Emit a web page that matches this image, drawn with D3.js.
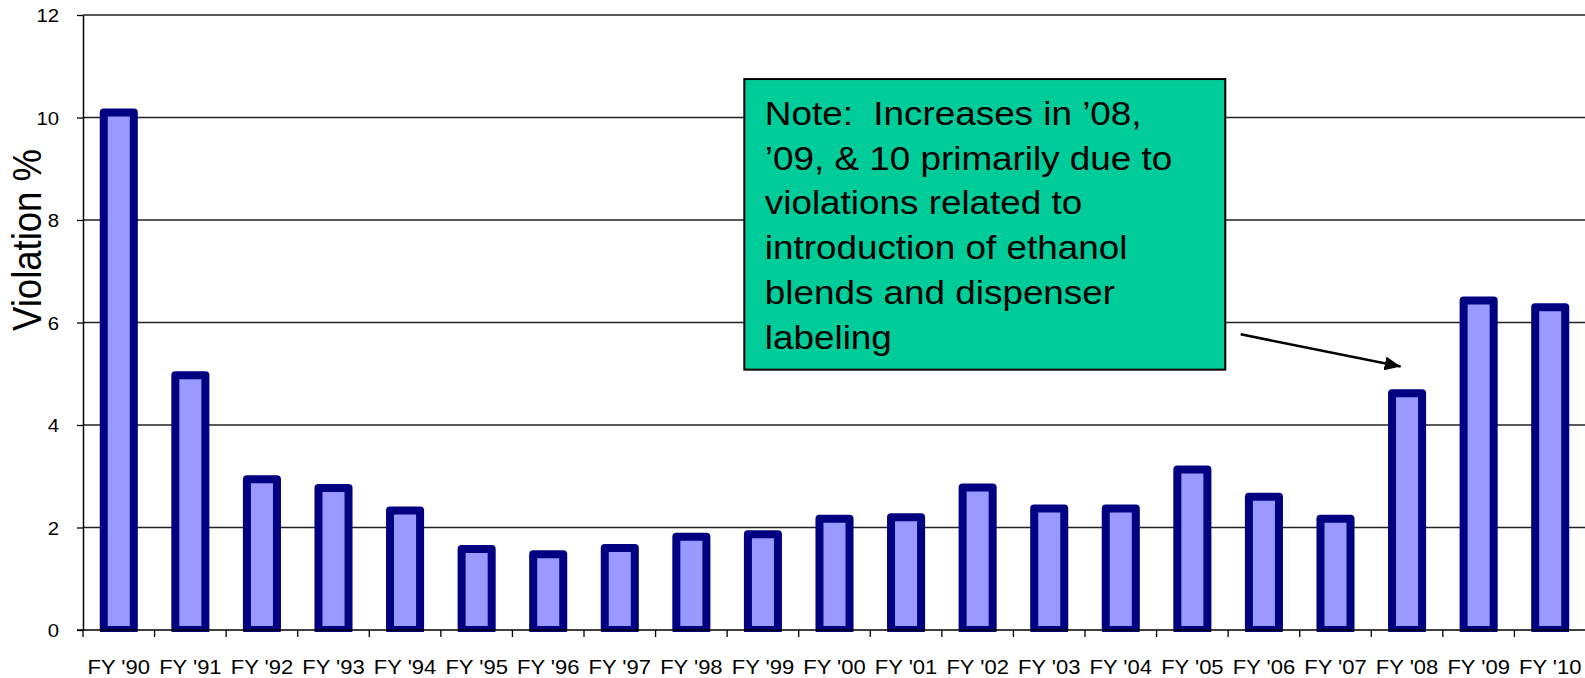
<!DOCTYPE html>
<html>
<head>
<meta charset="utf-8">
<script src="https://cdn.jsdelivr.net/npm/d3@7"></script>
<style>
  html, body { margin: 0; padding: 0; background: #fff; }
  svg { display: block; }
  text { font-family: Arial, "Liberation Sans", sans-serif; fill: #000; }
</style>
</head>
<body>
<svg id="chart" width="1585" height="678"></svg>
<script>
// ---- data ----
const categories = ["FY '90","FY '91","FY '92","FY '93","FY '94","FY '95","FY '96","FY '97","FY '98","FY '99","FY '00","FY '01","FY '02","FY '03","FY '04","FY '05","FY '06","FY '07","FY '08","FY '09","FY '10"];
const violationPct = [10.10, 4.97, 2.94, 2.77, 2.33, 1.58, 1.48, 1.60, 1.82, 1.87, 2.17, 2.20, 2.78, 2.37, 2.37, 3.13, 2.60, 2.17, 4.62, 6.43, 6.30];
const yTicks = [0, 2, 4, 6, 8, 10, 12];
const yTitle = "Violation %";
const noteLines = [
  "Note:  Increases in \u201908,",
  "\u201909, & 10 primarily due to",
  "violations related to",
  "introduction of ethanol",
  "blends and dispenser",
  "labeling"
];
// annotation anchors in data space: [category index (continuous), value]
const noteBox = { x0: 9.24, x1: 15.96, yTop: 10.75, yBottom: 5.08 };
const arrowFrom = [16.175, 5.77];
const arrowTo = [18.41, 5.14];

// ---- layout ----
const svg = d3.select("#chart");
const plotLeft = 83, plotRight = 1586, plotTop = 15, plotBottom = 630;
const SX = 1.1; // horizontal stretch of the text

const x = d3.scaleBand().domain(categories).range([plotLeft, plotRight]).paddingInner(0.58).paddingOuter(0.29);
const xi = d3.scaleLinear().domain([0, categories.length]).range([plotLeft, plotRight]);
const y = d3.scaleLinear().domain([0, 12]).range([plotBottom, plotTop]);

// gridlines
svg.append("g").selectAll("line").data(yTicks.filter(d => d > 0)).join("line")
  .attr("x1", plotLeft).attr("x2", 1585)
  .attr("y1", d => y(d)).attr("y2", d => y(d))
  .attr("stroke", "#222").attr("stroke-width", 1.3);

// y axis
const yAxis = svg.append("g").attr("transform", `translate(${plotLeft},0)`)
  .call(d3.axisLeft(y).tickValues(yTicks).tickSize(6).tickSizeOuter(0).tickPadding(18).tickFormat(d3.format("d")));
yAxis.select(".domain").attr("stroke", "#000").attr("stroke-width", 1.5);
yAxis.selectAll(".tick line").attr("stroke", "#000").attr("stroke-width", 1.3);
yAxis.selectAll(".tick text")
  .attr("font-size", 18.5).attr("font-family", "Arial, 'Liberation Sans', sans-serif").attr("dy", "0.36em")
  .attr("transform", `translate(-24,0) scale(${SX},1) translate(24,0)`);

// bars
svg.append("defs").append("clipPath").attr("id", "plotclip")
  .append("rect").attr("x", plotLeft).attr("y", 0).attr("width", 1585 - plotLeft).attr("height", plotBottom + 2);
svg.append("g").attr("clip-path", "url(#plotclip)")
  .selectAll("rect").data(categories).join("rect")
  .attr("x", d => x(d))
  .attr("width", x.bandwidth())
  .attr("y", (d, i) => y(violationPct[i]))
  .attr("height", (d, i) => y(0) - y(violationPct[i]))
  .attr("fill", "#9999FF")
  .attr("stroke", "#000080")
  .attr("stroke-width", 8)
  .attr("stroke-linejoin", "round");

// x axis
const xAxis = svg.append("g").attr("transform", `translate(0,${plotBottom})`)
  .call(d3.axisBottom(x).tickSize(0).tickSizeOuter(0));
xAxis.select(".domain").remove();
svg.append("line").attr("x1", plotLeft - 6).attr("x2", 1585).attr("y1", plotBottom).attr("y2", plotBottom)
  .attr("stroke", "#000").attr("stroke-width", 1.6);
svg.append("g").selectAll("line").data(d3.range(categories.length + 1)).join("line")
  .attr("x1", d => xi(d)).attr("x2", d => xi(d))
  .attr("y1", plotBottom).attr("y2", plotBottom + 7)
  .attr("stroke", "#000").attr("stroke-width", 1.3);
xAxis.selectAll(".tick text")
  .attr("font-size", 20).attr("font-family", "Arial, 'Liberation Sans', sans-serif")
  .attr("y", 44).attr("dy", 0)
  .attr("transform", `scale(${SX},1)`);

// y title
svg.append("text")
  .attr("transform", `translate(40.5,240) scale(${SX},1) rotate(-90)`)
  .attr("text-anchor", "middle")
  .attr("font-size", 36.5)
  .text(yTitle);

// annotation box
const bx0 = xi(noteBox.x0), bx1 = xi(noteBox.x1), by0 = y(noteBox.yTop), by1 = y(noteBox.yBottom);
svg.append("rect")
  .attr("x", bx0).attr("y", by0).attr("width", bx1 - bx0).attr("height", by1 - by0)
  .attr("fill", "#00CC99").attr("stroke", "#000").attr("stroke-width", 2);
const tx = bx0 + 20.5;
svg.append("g").selectAll("text").data(noteLines).join("text")
  .attr("x", tx)
  .attr("y", (d, i) => by0 + 46 + i * 44.7)
  .attr("font-size", 33.5)
  .style("white-space", "pre")
  .attr("transform", `translate(${tx},0) scale(${SX},1) translate(${-tx},0)`)
  .text(d => d);

// arrow
svg.append("defs").append("marker")
  .attr("id", "arrowhead").attr("viewBox", "0 0 16 14")
  .attr("refX", 16).attr("refY", 7)
  .attr("markerWidth", 16).attr("markerHeight", 14)
  .attr("markerUnits", "userSpaceOnUse")
  .attr("orient", "auto")
  .append("path").attr("d", "M0,0 L16,7 L0,14 Z").attr("fill", "#000");
svg.append("line")
  .attr("x1", xi(arrowFrom[0])).attr("y1", y(arrowFrom[1]))
  .attr("x2", xi(arrowTo[0])).attr("y2", y(arrowTo[1]))
  .attr("stroke", "#000").attr("stroke-width", 2.5)
  .attr("marker-end", "url(#arrowhead)");
</script>
</body>
</html>
